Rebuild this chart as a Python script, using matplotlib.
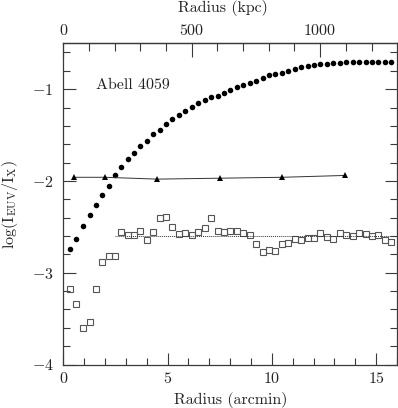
import matplotlib
matplotlib.use("Agg")
import matplotlib.pyplot as plt
from matplotlib.ticker import MultipleLocator, FixedLocator

plt.rcParams['font.family'] = 'serif'
plt.rcParams['font.serif'] = ['cmr10']
plt.rcParams['mathtext.fontset'] = 'cm'
plt.rcParams['axes.formatter.use_mathtext'] = True
plt.rcParams['axes.unicode_minus'] = True

# Radius of the profile bins (arcmin)
radius = [0.31, 0.62, 0.94, 1.26, 1.56, 1.86, 2.17, 2.47, 2.78, 3.10,
          3.40, 3.70, 4.00, 4.31, 4.62, 4.93, 5.23, 5.54, 5.85, 6.16,
          6.47, 6.78, 7.09, 7.40, 7.70, 8.01, 8.32, 8.63, 8.94, 9.25,
          9.56, 9.86, 10.17, 10.48, 10.79, 11.10, 11.41, 11.72, 12.03, 12.33,
          12.64, 12.95, 13.26, 13.57, 13.88, 14.19, 14.50, 14.80, 15.11, 15.42,
          15.73]

# Filled circles: model curve
log_model = [-2.74, -2.63, -2.49, -2.37, -2.26, -2.15, -2.05, -1.94, -1.85, -1.76,
             -1.69, -1.62, -1.56, -1.49, -1.44, -1.38, -1.33, -1.28, -1.24, -1.19,
             -1.15, -1.12, -1.09, -1.07, -1.04, -1.01, -0.98, -0.95, -0.93, -0.91,
             -0.88, -0.85, -0.836, -0.82, -0.80, -0.78, -0.76, -0.745, -0.74, -0.73,
             -0.725, -0.72, -0.71, -0.705, -0.70, -0.70, -0.70, -0.70, -0.70, -0.70,
             -0.70]

# Open squares: measured ratio
log_ratio = [-3.18, -3.34, -3.60, -3.54, -3.18, -2.885, -2.82, -2.82, -2.56, -2.59,
             -2.59, -2.55, -2.645, -2.56, -2.40, -2.395, -2.50, -2.58, -2.57, -2.59,
             -2.56, -2.51, -2.405, -2.55, -2.56, -2.55, -2.54, -2.57, -2.59, -2.69,
             -2.77, -2.75, -2.76, -2.69, -2.68, -2.635, -2.645, -2.62, -2.62, -2.57,
             -2.615, -2.63, -2.57, -2.59, -2.595, -2.57, -2.58, -2.595, -2.59, -2.64,
             -2.67]

# Triangles
tri_radius = [0.5, 2.0, 4.5, 7.5, 10.5, 13.5]
tri_log = [-1.96, -1.96, -1.98, -1.97, -1.96, -1.94]

# Dotted mean level
mean_level = -2.60
mean_range = [2.5, 16.0]

KPC_PER_ARCMIN = 81.2
kpc_major = [0, 500, 1000]
kpc_minor = [100, 200, 300, 400, 600, 700, 800, 900, 1100, 1200, 1300]

fig = plt.figure(figsize=(3.98, 4.08), dpi=100)
L, R, B, T = 63.3, 397.0, 364.5, 43.3
W, H = 398.0, 408.0
ax = fig.add_axes([L / W, 1 - B / H, (R - L) / W, (B - T) / H])

edge = '#3a3a3a'
txt = '#222222'
ax.plot(radius, log_model, 'o', ms=4.0, color='black', mec='black', mew=0)
ax.plot(radius, log_ratio, 's', ms=4.0, mfc='none', mec='#555555', mew=0.8)
ax.plot(tri_radius, tri_log, '-', color='#333333', lw=0.7)
ax.plot(tri_radius, tri_log, '^', ms=3.8, color='black', mew=0)
ax.plot(mean_range, [mean_level, mean_level], color='#333333', lw=0.7,
        linestyle=(0, (1, 1)))

ax.set_xlim(0, 16)
ax.set_ylim(-4, -0.5)

ax.xaxis.set_major_locator(FixedLocator([0, 5, 10, 15]))
ax.xaxis.set_minor_locator(MultipleLocator(1))
ax.yaxis.set_major_locator(FixedLocator([-4, -3, -2, -1]))
ax.yaxis.set_minor_locator(MultipleLocator(0.2))

fs = 11.5
ax.tick_params(which='both', direction='in', right=True, top=False,
               colors=edge, labelcolor=txt, labelsize=fs)
ax.tick_params(which='major', length=9, width=0.8)
ax.tick_params(which='minor', length=5, width=0.8)
ax.tick_params(axis='y', which='major', pad=7)
ax.tick_params(axis='x', which='major', pad=4.5)
for s in ax.spines.values():
    s.set_color(edge)
    s.set_linewidth(0.9)

sec = ax.secondary_xaxis('top', functions=(lambda x: x * KPC_PER_ARCMIN,
                                           lambda k: k / KPC_PER_ARCMIN))
sec.xaxis.set_major_locator(FixedLocator(kpc_major))
sec.xaxis.set_minor_locator(FixedLocator(kpc_minor))
sec.tick_params(which='both', direction='in', colors=edge,
                labelcolor=txt, labelsize=fs)
sec.tick_params(which='major', length=10, width=0.8, pad=4)
sec.tick_params(which='minor', length=6, width=0.8)
sec.spines['top'].set_color(edge)
sec.spines['top'].set_linewidth(0.9)

fig.text(231 / W, 1 - 400 / H, 'Radius (arcmin)', fontsize=fs, color=txt,
         ha='center', va='center')
fig.text(222.5 / W, 1 - 8 / H, 'Radius (kpc)', fontsize=fs, color=txt,
         ha='center', va='center')
fig.text(10 / W, 1 - 205 / H,
         r'$\mathrm{log}(\mathrm{I}_{\mathrm{EUV}}/\mathrm{I}_{\mathrm{X}})$',
         fontsize=fs, color=txt, rotation=90, ha='center', va='center')

ax.text(1.56, -0.96, 'Abell 4059', fontsize=fs, color=txt,
        ha='left', va='center')

fig.savefig('out.png', dpi=100)
